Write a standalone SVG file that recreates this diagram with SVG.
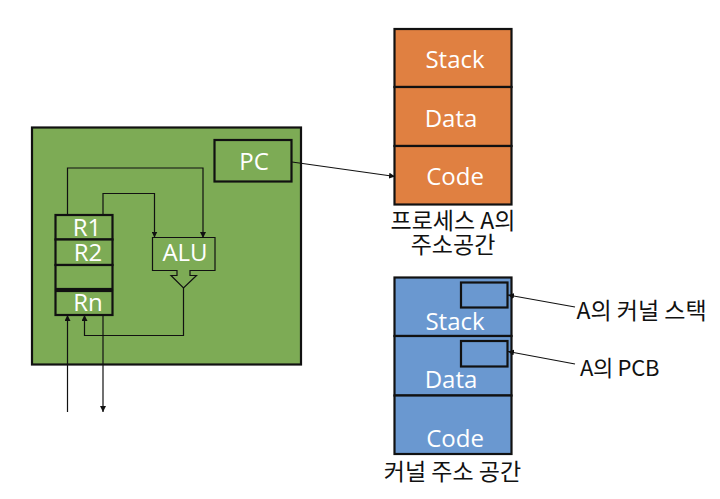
<svg xmlns="http://www.w3.org/2000/svg" width="720" height="499" viewBox="0 0 720 499">
<style>
text{font-family:"Open Sans","Noto Sans CJK KR",sans-serif}
.w{fill:#fff;font-size:24px;text-anchor:middle}
.k{fill:#111;font-size:23px;text-anchor:middle;font-family:"Noto Sans CJK KR",sans-serif}
.b{stroke:#111;stroke-width:2.2}
.g{fill:#7dab55}
.o{fill:#e08041}
.l{fill:#6a98d0}
.c{fill:none;stroke:#111;stroke-width:1.2}
.a{marker-end:url(#m)}
</style>
<defs><marker id="m" markerWidth="7" markerHeight="6" refX="6" refY="3" orient="auto" markerUnits="userSpaceOnUse"><path d="M0 0L6 3L0 6Z" fill="#111"/></marker></defs>
<rect width="720" height="499" fill="#fff"/>
<g id="cpu"><rect class="g b" x="32" y="127.500" width="269" height="237"/></g>
<g id="pc"><rect class="g b" x="214.500" y="140" width="77" height="41.500"/><text class="w" x="254" y="170">PC</text></g>
<g id="r1"><rect class="g b" x="55.500" y="215" width="57" height="24.500"/><text class="w" x="87" y="236">R1</text></g>
<g id="r2"><rect class="g b" x="55.500" y="239.500" width="57" height="25.500"/><text class="w" x="88" y="261">R2</text></g>
<g id="rx"><rect class="g b" x="55.500" y="265" width="57" height="24"/></g>
<g id="rn"><rect class="g b" x="55.500" y="291" width="57" height="24"/><text class="w" x="88" y="311">Rn</text></g>
<g id="alu"><path class="g c" d="M152.500 237.500H215V270.500H190V275.500H196.500L183.500 288L171 275.500H177V270.500H152.500Z"/><text class="w" x="185" y="261">ALU</text></g>
<g id="process-stack"><rect class="o b" x="394.500" y="29" width="117" height="58"/><text class="w" x="455" y="68">Stack</text></g>
<g id="process-data"><rect class="o b" x="394.500" y="87" width="117" height="59"/><text class="w" x="451" y="127">Data</text></g>
<g id="process-code"><rect class="o b" x="394.500" y="146" width="117" height="58.500"/><text class="w" x="455" y="185">Code</text></g>
<g id="process-label"><text class="k" x="453" y="229">프로세스 A의</text><text class="k" x="453" y="253">주소공간</text></g>
<g id="kernel-stack"><rect class="l b" x="394.500" y="277.500" width="117" height="58.500"/><rect class="l b" x="461" y="282.500" width="46.500" height="25"/><text class="w" x="455" y="330">Stack</text></g>
<g id="kernel-data"><rect class="l b" x="394.500" y="336" width="117" height="59.500"/><rect class="l b" x="461" y="341" width="46.500" height="25.500"/><text class="w" x="451" y="388">Data</text></g>
<g id="kernel-code"><rect class="l b" x="394.500" y="395.500" width="117" height="58.500"/><text class="w" x="455" y="447">Code</text></g>
<g id="kernel-label"><text class="k" x="452.500" y="480">커널 주소 공간</text></g>
<g id="label-stack"><text class="k" x="641.500" y="319">A의 커널 스택</text></g>
<g id="label-pcb"><text class="k" x="619.500" y="376" style="font-size:22px;letter-spacing:-.3px">A의 PCB</text></g>
<g id="connectors">
<path class="c a" d="M292 162L395 176.500"/>
<path class="c a" d="M67.500 214V168H203V238"/>
<path class="c a" d="M103 214V193.500H154.500V237.500"/>
<path class="c a" d="M183.500 288V335.500H84.500V315"/>
<path class="c a" d="M67.500 412V315"/>
<path class="c a" d="M103 315V412"/>
<path class="c a" d="M575 307L508 295"/>
<path class="c a" d="M575 364L508 351.500"/>
</g>
</svg>
